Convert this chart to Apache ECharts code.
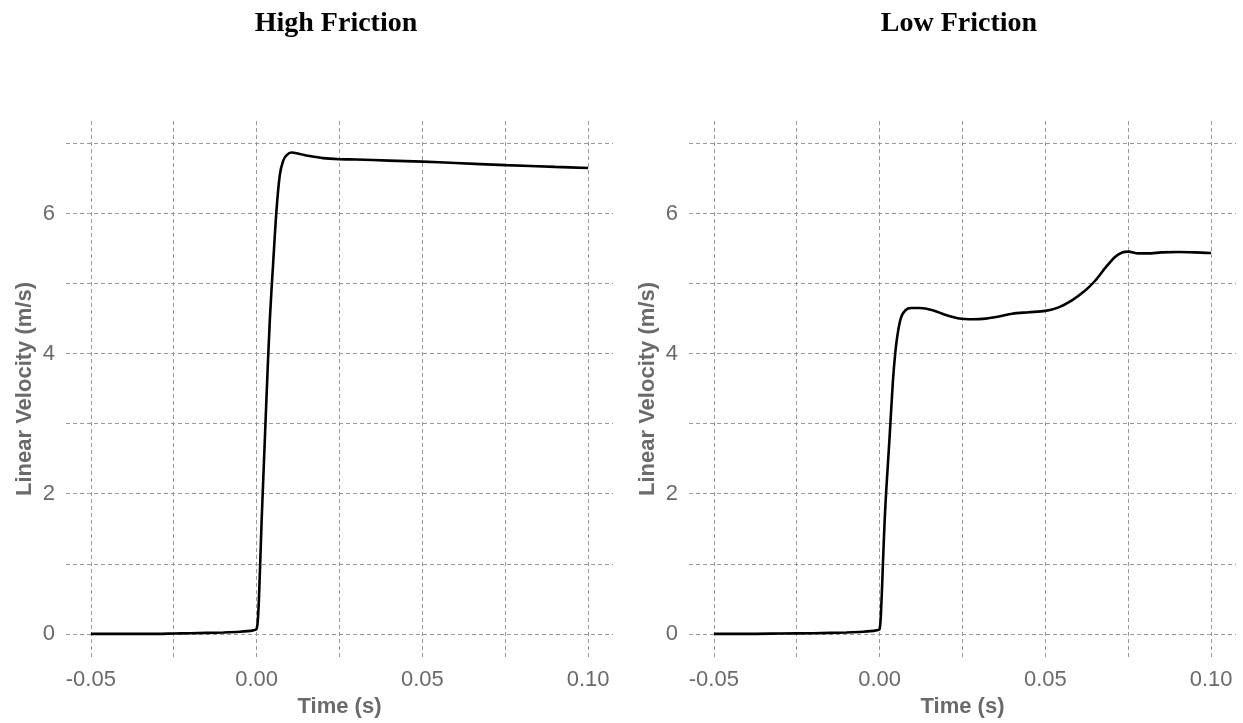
<!doctype html>
<html>
<head>
<meta charset="utf-8">
<title>Linear Velocity</title>
<script src="https://cdn.jsdelivr.net/npm/echarts@6/dist/echarts.min.js"></script>
<style>
  html, body { margin: 0; padding: 0; background: #fff; }
  #main { width: 1243px; height: 723px; }
</style>
</head>
<body>
<div id="main"></div>
<script>
// panel titles
var panels = ['High Friction', 'Low Friction'];

// time (s) and velocity (m/s)
var timeHigh = [-0.05, -0.04, -0.03, -0.025, -0.02, -0.01, -0.005, -0.001, 0.0, 0.0005, 0.001, 0.0015,
  0.002, 0.003, 0.004, 0.005, 0.006, 0.007, 0.008, 0.009, 0.0105, 0.013, 0.016, 0.02, 0.025, 0.03,
  0.04, 0.05, 0.06, 0.075, 0.09, 0.1];
var velHigh = [0, 0, 0, 0.005, 0.01, 0.02, 0.03, 0.05, 0.07, 0.3, 0.9, 1.6,
  2.2, 3.4, 4.5, 5.3, 6.05, 6.55, 6.75, 6.83, 6.87, 6.85, 6.82, 6.79, 6.775, 6.77,
  6.755, 6.74, 6.72, 6.69, 6.665, 6.65];

var timeLow = [-0.05, -0.04, -0.03, -0.02, -0.01, -0.005, -0.001, 0.0, 0.0005, 0.001, 0.0015, 0.002,
  0.003, 0.004, 0.0047, 0.0055, 0.0065, 0.0078, 0.0095, 0.012, 0.016, 0.02, 0.024, 0.028, 0.032,
  0.036, 0.04, 0.045, 0.05, 0.054, 0.058, 0.062, 0.065, 0.068, 0.071, 0.073, 0.075, 0.078, 0.081,
  0.085, 0.09, 0.095, 0.1];
var velLow = [0, 0, 0.005, 0.01, 0.02, 0.03, 0.05, 0.07, 0.4, 1.0, 1.6, 2.05,
  2.8, 3.6, 4.0, 4.3, 4.52, 4.62, 4.65, 4.65, 4.62, 4.55, 4.5, 4.49, 4.5,
  4.53, 4.57, 4.59, 4.61, 4.66, 4.76, 4.9, 5.04, 5.22, 5.38, 5.44, 5.455, 5.43, 5.43,
  5.445, 5.45, 5.445, 5.435];

var xLabels = [-0.05, 0, 0.05, 0.1];
var xGrid = [-0.05, -0.025, 0, 0.025, 0.05, 0.075, 0.1];
var yLabels = [0, 2, 4, 6];
var yGrid = [0, 1, 2, 3, 4, 5, 6, 7];

function zip(xs, ys) {
  return xs.map(function (x, i) { return [x, ys[i]]; });
}

var gridLine = { show: true, lineStyle: { color: '#999', width: 1, type: [4, 3] } };
var tickFont = { color: '#6a6a6a', fontSize: 22, fontFamily: 'Liberation Sans, Arial, sans-serif' };
var nameFont = { color: '#6a6a6a', fontSize: 22, fontWeight: 'bold', fontFamily: 'Liberation Sans, Arial, sans-serif' };

var lefts = [66, 689];

var option = {
  animation: false,
  backgroundColor: '#fff',
  title: panels.map(function (t, i) {
    return {
      text: t,
      left: lefts[i] + 265,
      top: 5,
      textAlign: 'center',
      textStyle: { fontFamily: 'Liberation Serif, Times New Roman, serif', fontWeight: 'bold', fontSize: 28, color: '#000' }
    };
  }),
  grid: lefts.map(function (l) {
    return { left: l, top: 121, width: 547, height: 536 };
  }),
  xAxis: lefts.map(function (l, i) {
    return {
      type: 'value',
      gridIndex: i,
      min: -0.0575,
      max: 0.1075,
      name: 'Time (s)',
      nameLocation: 'middle',
      nameGap: 38,
      nameTextStyle: nameFont,
      axisLine: { show: false },
      axisTick: { show: false, customValues: xGrid },
      splitLine: gridLine,
      axisLabel: Object.assign({
        customValues: xLabels,
        margin: 12,
        formatter: function (v) { return v.toFixed(2); }
      }, tickFont)
    };
  }),
  yAxis: lefts.map(function (l, i) {
    return {
      type: 'value',
      gridIndex: i,
      min: -0.33,
      max: 7.32,
      name: 'Linear Velocity (m/s)',
      nameLocation: 'middle',
      nameGap: 30,
      nameTextStyle: nameFont,
      axisLine: { show: false },
      axisTick: { show: false, customValues: yGrid },
      splitLine: gridLine,
      axisLabel: Object.assign({
        customValues: yLabels,
        margin: 11
      }, tickFont)
    };
  }),
  series: [
    {
      type: 'line', xAxisIndex: 0, yAxisIndex: 0,
      data: zip(timeHigh, velHigh),
      showSymbol: false, smooth: 0.3,
      lineStyle: { color: '#000', width: 2.6 }
    },
    {
      type: 'line', xAxisIndex: 1, yAxisIndex: 1,
      data: zip(timeLow, velLow),
      showSymbol: false, smooth: 0.3,
      lineStyle: { color: '#000', width: 2.6 }
    }
  ]
};

var chart = echarts.init(document.getElementById('main'));
chart.setOption(option);
</script>
</body>
</html>
